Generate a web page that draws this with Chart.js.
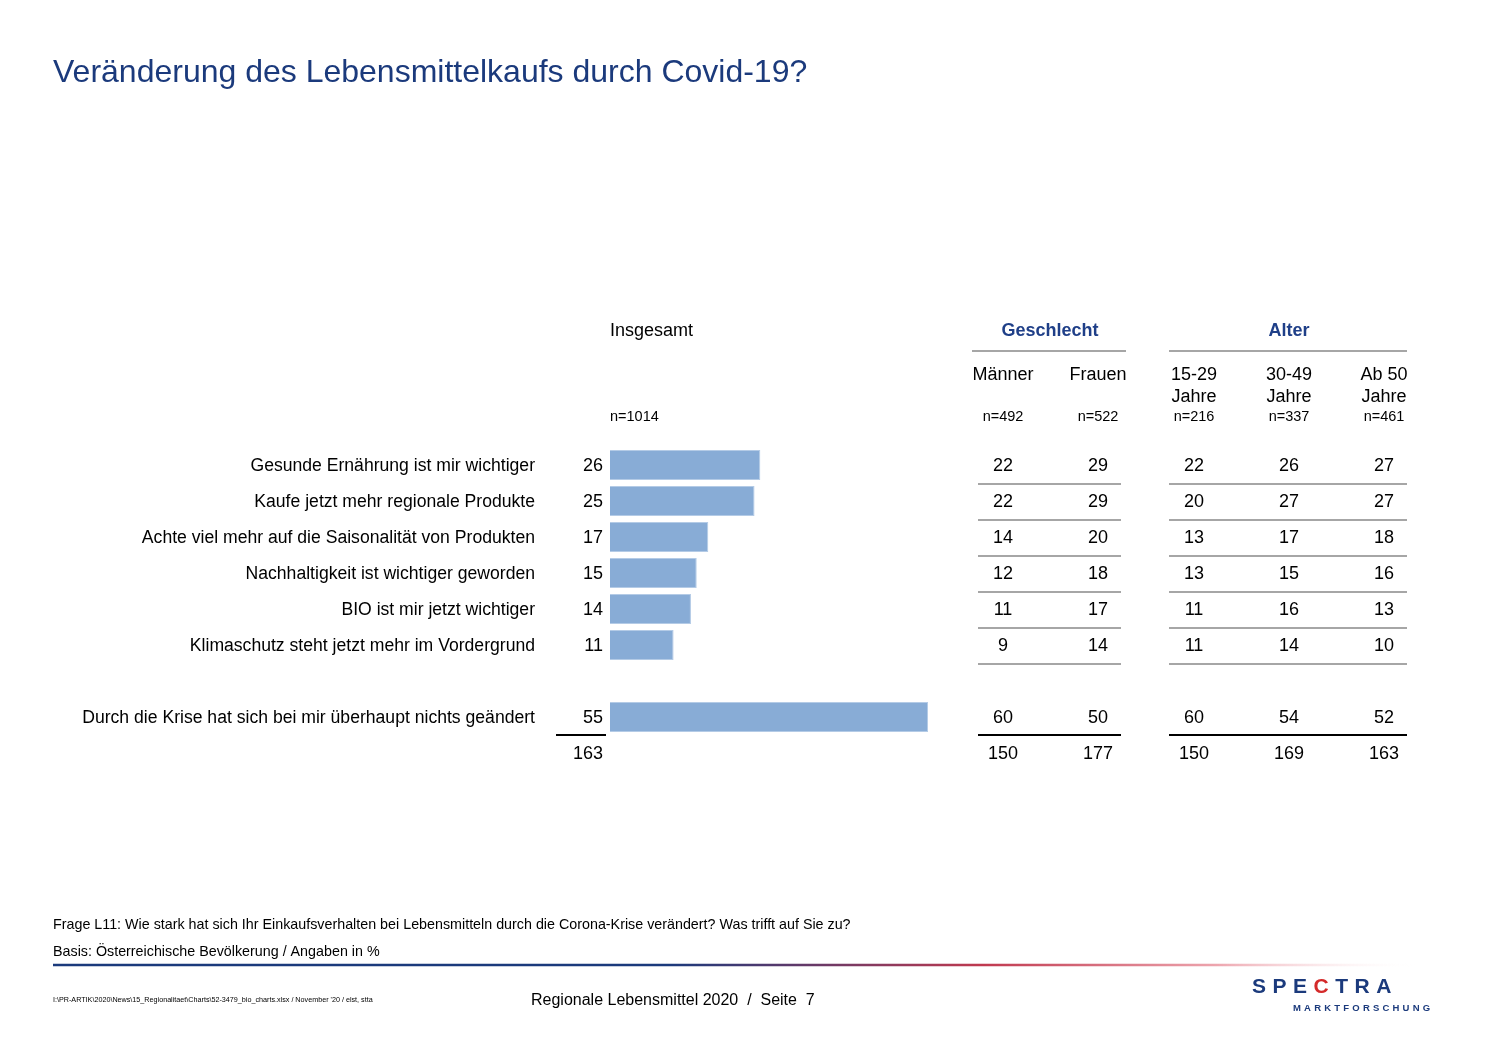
<!DOCTYPE html>
<html>
<head>
<meta charset="utf-8">
<script src="https://cdn.jsdelivr.net/npm/chart.js@4.4.1/dist/chart.umd.min.js"></script>
<style>
html,body{margin:0;padding:0;background:#fff;}
canvas{display:block;}
</style>
</head>
<body>
<canvas id="c" width="1500" height="1061"></canvas>
<script>
const rowLabels = [
  "Gesunde Ernährung ist mir wichtiger",
  "Kaufe jetzt mehr regionale Produkte",
  "Achte viel mehr auf die Saisonalität von Produkten",
  "Nachhaltigkeit ist wichtiger geworden",
  "BIO ist mir jetzt wichtiger",
  "Klimaschutz steht jetzt mehr im Vordergrund",
  "",
  "Durch die Krise hat sich bei mir überhaupt nichts geändert"
];
const insgesamt = [26, 25, 17, 15, 14, 11, null, 55];
const maenner   = [22, 22, 14, 12, 11, 9, null, 60];
const frauen    = [29, 29, 20, 18, 17, 14, null, 50];
const age1529   = [22, 20, 13, 13, 11, 11, null, 60];
const age3049   = [26, 27, 17, 15, 16, 14, null, 54];
const ab50      = [27, 27, 18, 16, 13, 10, null, 52];
const totals    = [163, 150, 177, 150, 169, 163];
const colHeaders = [["Männer"], ["Frauen"], ["15-29", "Jahre"], ["30-49", "Jahre"], ["Ab 50", "Jahre"]];
const nLabels = ["n=492", "n=522", "n=216", "n=337", "n=461"];
const nTotal = "n=1014";

const FONT = "Arial, 'Liberation Sans', Helvetica, sans-serif";
const BLUE = "#1b3a7c";

const overlay = {
  id: 'overlay',
  afterDraw(chart) {
    const ctx = chart.ctx;
    const y = chart.scales.y;
    ctx.save();
    // Title
    ctx.fillStyle = BLUE;
    ctx.font = "32px " + FONT;
    ctx.textAlign = "left";
    ctx.textBaseline = "alphabetic";
    ctx.fillText("Veränderung des Lebensmittelkaufs durch Covid-19?", 53, 82);

    // Headers
    ctx.fillStyle = "#000";
    ctx.font = "18px " + FONT;
    ctx.textBaseline = "middle";
    ctx.fillText("Insgesamt", 610, 331);
    ctx.font = "bold 18px " + FONT;
    ctx.fillStyle = "#1f3f88";
    ctx.textAlign = "center";
    ctx.fillText("Geschlecht", 1050, 331);
    ctx.fillText("Alter", 1289, 331);

    ctx.strokeStyle = "#a6a6a6";
    ctx.lineWidth = 2;
    ctx.beginPath();
    ctx.moveTo(972, 351); ctx.lineTo(1126, 351);
    ctx.moveTo(1169, 351); ctx.lineTo(1407, 351);
    ctx.stroke();

    const colX = [1003, 1098, 1194, 1289, 1384];
    ctx.fillStyle = "#000";
    ctx.font = "18px " + FONT;
    colHeaders.forEach((h, i) => {
      h.forEach((t, j) => ctx.fillText(t, colX[i], 375 + j * 22));
    });
    ctx.font = "14.5px " + FONT;
    nLabels.forEach((t, i) => ctx.fillText(t, colX[i], 417));
    ctx.textAlign = "left";
    ctx.fillText(nTotal, 610, 417);

    // Rows
    const cols = [maenner, frauen, age1529, age3049, ab50];
    rowLabels.forEach((lab, i) => {
      if (insgesamt[i] === null) return;
      const py = y.getPixelForValue(i) + 1;
      ctx.textAlign = "right";
      ctx.font = "17.6px " + FONT;
      ctx.fillText(lab, 535, py);
      ctx.font = "18px " + FONT;
      ctx.fillText(String(insgesamt[i]), 603, py);
      ctx.textAlign = "center";
      cols.forEach((arr, c) => ctx.fillText(String(arr[i]), colX[c], py));
    });

    // Separator lines
    const half = 18;
    ctx.strokeStyle = "#a6a6a6";
    ctx.lineWidth = 2;
    ctx.beginPath();
    for (let i = 0; i < 6; i++) {
      const ly = Math.round(y.getPixelForValue(i) + half) + 1;
      ctx.moveTo(978, ly); ctx.lineTo(1121, ly);
      ctx.moveTo(1169, ly); ctx.lineTo(1407, ly);
    }
    ctx.stroke();

    const by = Math.round(y.getPixelForValue(7) + half);
    ctx.strokeStyle = "#000";
    ctx.beginPath();
    ctx.moveTo(556, by); ctx.lineTo(606, by);
    ctx.moveTo(978, by); ctx.lineTo(1121, by);
    ctx.moveTo(1169, by); ctx.lineTo(1407, by);
    ctx.stroke();

    // Totals
    const ty = by + 19;
    ctx.fillStyle = "#000";
    ctx.font = "18px " + FONT;
    ctx.textAlign = "right";
    ctx.fillText(String(totals[0]), 603, ty);
    ctx.textAlign = "center";
    for (let c = 0; c < 5; c++) ctx.fillText(String(totals[c + 1]), colX[c], ty);

    // Footer
    ctx.textAlign = "left";
    ctx.font = "14.3px " + FONT;
    ctx.fillText("Frage L11: Wie stark hat sich Ihr Einkaufsverhalten bei Lebensmitteln durch die Corona-Krise verändert? Was trifft auf Sie zu?", 53, 925);
    ctx.fillText("Basis: Österreichische Bevölkerung / Angaben in %", 53, 952);

    const g = ctx.createLinearGradient(53, 0, 1420, 0);
    g.addColorStop(0, "#1b3a7c");
    g.addColorStop(0.45, "#1b3a7c");
    g.addColorStop(0.68, "#c0394f");
    g.addColorStop(0.85, "#eda4ad");
    g.addColorStop(1, "rgba(255,255,255,0)");
    ctx.strokeStyle = g;
    ctx.lineWidth = 2.5;
    ctx.beginPath();
    ctx.moveTo(53, 965); ctx.lineTo(1420, 965);
    ctx.stroke();

    ctx.font = "7.2px " + FONT;
    ctx.fillText("I:\\PR-ARTIK\\2020\\News\\15_Regionalitaet\\Charts\\52-3479_bio_charts.xlsx / November '20 / elst, stta", 53, 1000);

    ctx.font = "16px " + FONT;
    ctx.fillText("Regionale Lebensmittel 2020  /  Seite  7", 531, 1001);

    // Logo
    ctx.font = "bold 21px " + FONT;
    let lx = 1252;
    "SPECTRA".split("").forEach((ch, i) => {
      ctx.fillStyle = i === 3 ? "#d42a2a" : "#1b3a7c";
      ctx.fillText(ch, lx, 987);
      lx += ctx.measureText(ch).width + 6.5;
    });
    ctx.font = "bold 9.5px " + FONT;
    ctx.fillStyle = "#1b3a7c";
    let mx = 1293;
    "MARKTFORSCHUNG".split("").forEach(ch => {
      ctx.fillText(ch, mx, 1008);
      mx += ctx.measureText(ch).width + 3.2;
    });
    ctx.restore();
  }
};

new Chart(document.getElementById('c'), {
  type: 'bar',
  data: {
    labels: rowLabels,
    datasets: [{
      data: insgesamt,
      backgroundColor: "#88acd6",
      borderColor: "#b4cbe6",
      borderWidth: 1,
      categoryPercentage: 1,
      barPercentage: 0.84
    }]
  },
  options: {
    indexAxis: 'y',
    responsive: false,
    animation: false,
    devicePixelRatio: 1,
    layout: { padding: { left: 610, right: 572, top: 447, bottom: 326 } },
    plugins: { legend: { display: false }, tooltip: { enabled: false } },
    scales: {
      x: { display: false, min: 0, max: 55 },
      y: { display: false }
    }
  },
  plugins: [overlay]
});
</script>
</body>
</html>
